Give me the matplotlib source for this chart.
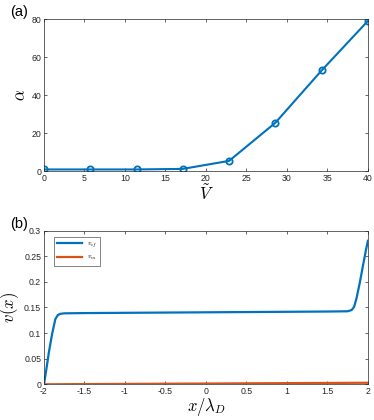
import matplotlib.pyplot as plt
import numpy as np

plt.rcParams['font.family'] = ['Liberation Sans', 'DejaVu Sans']
plt.rcParams['mathtext.fontset'] = 'cm'

# panel (a): alpha vs V~
v_tilde = [0, 5.714, 11.43, 17.14, 22.86, 28.57, 34.29, 40]
alpha = [1.0, 1.0, 1.0, 1.3, 5.5, 25.5, 53.0, 79.0]

# panel (b): velocity profiles
x_cf = [-2.0, -1.97, -1.94, -1.9, -1.86, -1.83, -1.8, -1.75, -1.5, -1.0, 0.0,
        1.0, 1.5, 1.75, 1.8, 1.83, 1.86, 1.9, 1.94, 1.97, 2.0]
v_cf = [0.0, 0.03, 0.062, 0.098, 0.127, 0.135, 0.1375, 0.1385, 0.139, 0.1395, 0.1405,
        0.1415, 0.142, 0.1425, 0.145, 0.151, 0.168, 0.198, 0.232, 0.257, 0.28]
x_m = [-2.0, -1.0, 0.0, 1.0, 2.0]
v_m = [0.0, 0.0008, 0.0015, 0.0023, 0.003]

blue = '#0072BD'
orange = '#D95319'
axcol = '#262626'

fig = plt.figure(figsize=(3.74, 4.2), dpi=100)
ax1 = fig.add_axes([0.1176, 0.592, 0.866, 0.3626])
ax2 = fig.add_axes([0.1176, 0.085, 0.866, 0.366])

for ax in (ax1, ax2):
    ax.tick_params(direction='in', length=2.5, width=0.5, labelsize=6.3, colors=axcol,
                   top=True, right=True, pad=2)
    for s in ax.spines.values():
        s.set_linewidth(0.5)
        s.set_color(axcol)

ax1.plot(v_tilde, alpha, color=blue, linewidth=1.5, marker='o', markersize=4.5,
         markerfacecolor='none', markeredgewidth=1.3)
ax1.set_xlim(0, 40)
ax1.set_ylim(0, 80)
ax1.set_xticks(np.arange(0, 41, 5))
ax1.set_yticks(np.arange(0, 81, 20))
ax1.set_xlabel(r'$\tilde{V}$', fontsize=12, labelpad=0)
ax1.set_ylabel(r'$\alpha$', fontsize=12, labelpad=2)
ax1.text(-0.105, 1.0, '(a)', transform=ax1.transAxes, fontsize=10.5, va='bottom', ha='left')

ax2.plot(x_cf, v_cf, color=blue, linewidth=1.6, label=r'$v_{cf}$')
ax2.plot(x_m, v_m, color=orange, linewidth=1.6, label=r'$v_m$')
ax2.set_xlim(-2, 2)
ax2.set_ylim(0, 0.3)
ax2.set_xticks(np.arange(-2, 2.01, 0.5))
ax2.set_xticklabels(['-2', '-1.5', '-1', '-0.5', '0', '0.5', '1', '1.5', '2'])
ax2.set_yticks(np.arange(0, 0.301, 0.05))
ax2.set_yticklabels(['0', '0.05', '0.1', '0.15', '0.2', '0.25', '0.3'])
ax2.set_xlabel(r'$x/\lambda_D$', fontsize=12, labelpad=0)
ax2.set_ylabel(r'$v(x)$', fontsize=12, labelpad=2)
ax2.text(-0.105, 1.0, '(b)', transform=ax2.transAxes, fontsize=10.5, va='bottom', ha='left')
leg = ax2.legend(loc='upper left', fontsize=5, frameon=True, fancybox=False,
                 handlelength=3.6, handletextpad=0.6, borderpad=0.5, labelspacing=0.6,
                 bbox_to_anchor=(0.02, 0.98))
leg.get_frame().set_edgecolor(axcol)
leg.get_frame().set_linewidth(0.5)

fig.savefig('out.png', dpi=100)
